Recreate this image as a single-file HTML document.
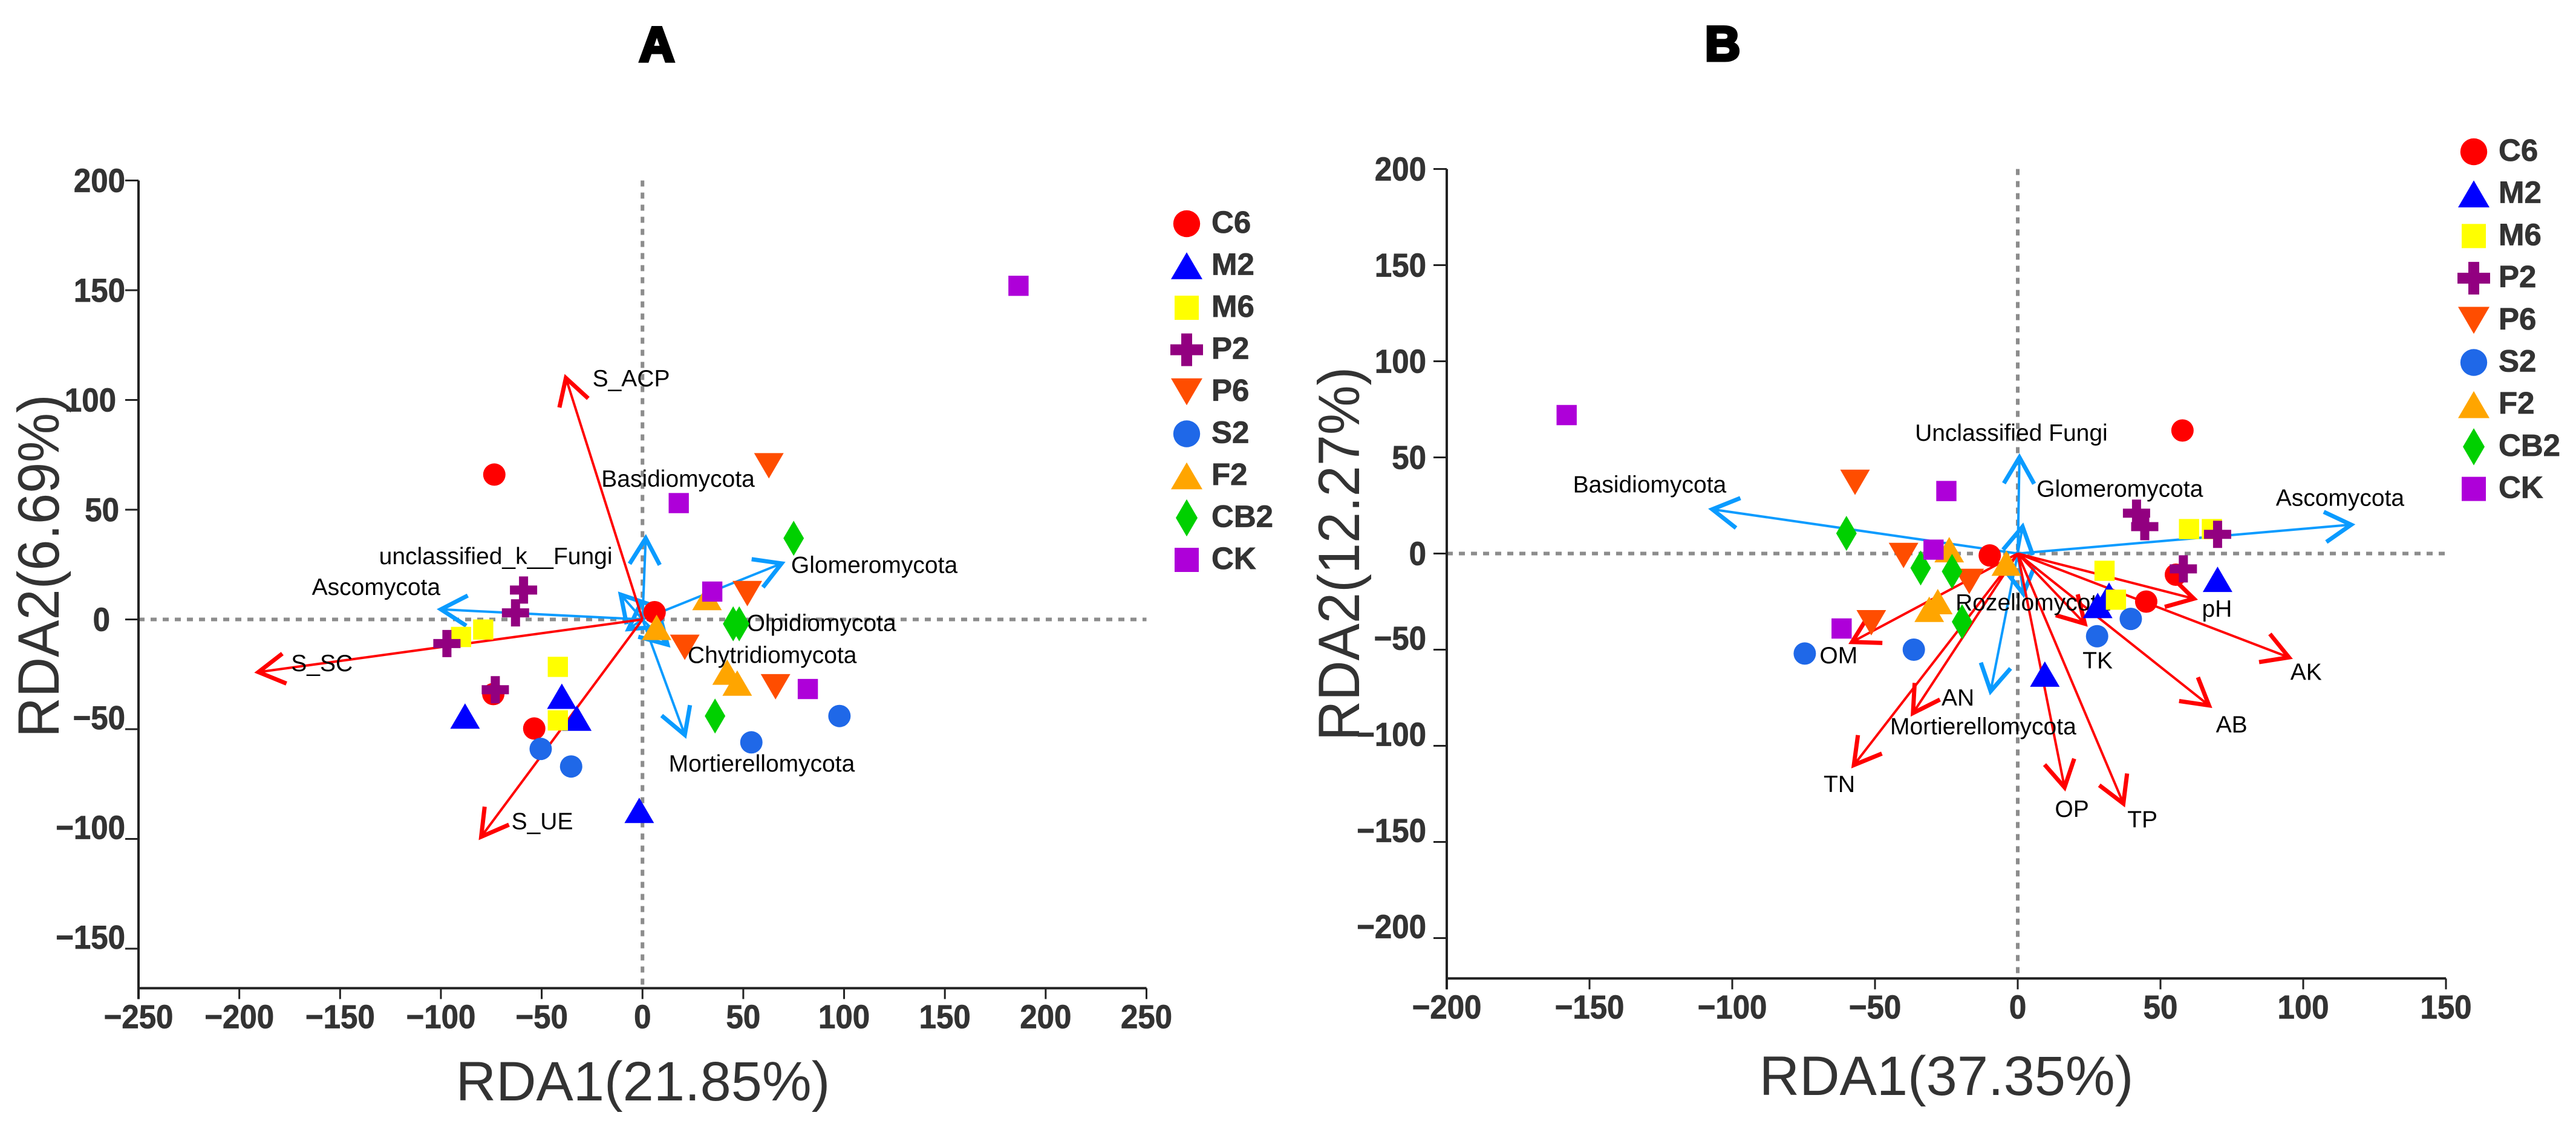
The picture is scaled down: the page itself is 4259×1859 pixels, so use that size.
<!DOCTYPE html>
<html lang="en">
<head>
<meta charset="utf-8">
<title>RDA biplots A and B</title>
<style>
html,body{margin:0;padding:0;background:#fff;}
svg{display:block;font-family:"Liberation Sans",Arial,sans-serif;}
.tick{font-weight:bold;font-size:51px;fill:#333;stroke:#333;stroke-width:0.8px;}
.axis-title{font-size:92px;fill:#333;}
.arrow-label{font-size:39px;fill:#000;}
.legend-label{font-weight:bold;font-size:51px;fill:#333;stroke:#333;stroke-width:0.8px;}
.panel-letter{font-weight:bold;font-size:81px;fill:#000;stroke:#000;stroke-width:5px;text-anchor:middle;}
</style>
</head>
<body>
<svg id="chart" xmlns="http://www.w3.org/2000/svg" width="4259" height="1859" viewBox="0 0 4259 1859">
  <rect x="0" y="0" width="4259" height="1859" fill="#fff"/>
  <text class="panel-letter" x="1086" y="101">A</text>
  <text class="panel-letter" x="2848" y="100">B</text>
  <text class="axis-title" x="1063" y="1820" text-anchor="middle">RDA1(21.85%)</text>
  <text class="axis-title" transform="translate(97,936) rotate(-90) scale(1,1.05)" text-anchor="middle">RDA2(6.69%)</text>
  <text class="axis-title" x="3218" y="1811" text-anchor="middle">RDA1(37.35%)</text>
  <text class="axis-title" transform="translate(2247,916) rotate(-90) scale(1,1.05)" text-anchor="middle">RDA2(12.27%)</text>
  <g id="panel-a"></g>
  <g id="panel-b"></g>
</svg>
<script>
// ---------- shared categories ----------
const groupNames = ["C6","M2","M6","P2","P6","S2","F2","CB2","CK"];

// ---------- panel A values (RDA1, RDA2) ----------
const aXTicks = [-250,-200,-150,-100,-50,0,50,100,150,200,250];
const aYTicks = [200,150,100,50,0,-50,-100,-150];
const aC6x = [6,-73.5,-74,-53.7];
const aC6y = [3.3,66,-34,-49.7];
const aM2x = [-88,-40,-32.6,-1.6];
const aM2y = [-44,-35,-45,-87];
const aM6x = [-90,-79,-42,-42];
const aM6y = [-8,-4.6,-21.6,-46];
const aP2x = [-59,-63,-97,-73];
const aP2y = [13.4,3,-11,-32];
const aP6x = [62.7,52,21,66];
const aP6y = [70,11.8,-12.7,-30.7];
const aS2x = [-50.5,-35.4,54,97.7];
const aS2y = [-59,-67,-56,-44];
const aF2x = [32,7,42,47];
const aF2y = [10,-3.6,-24,-29];
const aCB2x = [75,45,48,36];
const aCB2y = [37,-2,-2,-44];
const aCKx = [186.5,18,34.6,82];
const aCKy = [152,53,12.7,-31.7];
const aRedTipX = [-38,-190.5,-80];
const aRedTipY = [110,-24,-99];
const aBlueTipX = [1.6,-100,-10.8,69,21,-7,12.4];
const aBlueTipY = [37,4.6,11.3,25.5,-52.6,-4.4,-11.5];
const aLabels = ["S_ACP","Basidiomycota","unclassified_k__Fungi","Ascomycota","Glomeromycota","Olpidiomycota","Chytridiomycota","S_SC","Mortierellomycota","S_UE"];
const aLabelX = [-24.8,-20.4,-130.7,-164,73.7,51.7,22.4,-174.3,13,-65];
const aLabelY = [109.8,64,28.8,14.7,24.8,-1.6,-16.3,-20,-65.7,-92];

// ---------- panel B values (RDA1, RDA2) ----------
const bXTicks = [-200,-150,-100,-50,0,50,100,150];
const bYTicks = [200,150,100,50,0,-50,-100,-150,-200];
const bC6x = [-9.8,57.7,55.4,45];
const bC6y = [-1,64,-11,-25];
const bM2x = [70,32,28,9.5];
const bM2y = [-13.4,-21.6,-27,-62.7];
const bM6x = [60,68,30.4,34.4];
const bM6y = [12.7,12.7,-9,-24];
const bP2x = [41.6,44.5,70,58];
const bP2y = [21,14,10,-8];
const bP6x = [-57,-40,-17,-51.3];
const bP6y = [37,-1,-14.5,-36];
const bS2x = [-74.6,-36.4,27.8,39.6];
const bS2y = [-52,-50,-43,-34];
const bF2x = [-24,-4,-28,-31];
const bF2y = [2,-5,-25,-29];
const bCB2x = [-60,-34,-23,-19.5];
const bCB2y = [10.5,-7.5,-9.3,-35.5];
const bCKx = [-158,-25,-29.5,-61.7];
const bCKy = [72,32.5,2,-39];
const bRedTipX = [95,67,61.7,23.5,16.4,37,-57.4,-36.7,-58];
const bRedTipY = [-54,-79,-23.5,-36.5,-121.6,-130,-110,-83,-46];
const bBlueTipX = [116.8,-107,0.6,1.7,-9.5,2];
const bBlueTipY = [15,23,50,14,-71.6,-21];
const bLabels = ["Unclassified Fungi","Glomeromycota","Basidiomycota","Ascomycota","Rozellomycota","pH","OM","TK","AK","AN","AB","Mortierellomycota","TN","OP","TP"];
const bLabelX = [-36,6.6,-155.8,90.4,-21.8,64.5,-69.4,22.7,95.5,-26.7,69.4,-44.7,-68,13,38.4];
const bLabelY = [62.7,33.6,35.8,29,-25.4,-28.7,-53,-55.6,-61.6,-75,-89,-90,-120,-132.8,-138.4];

// ---------- drawing ----------
const NS = "http://www.w3.org/2000/svg";
const RED = "#ff0000", BLUE = "#0a9bff";
const fills = {C6:"#ff0000",M2:"#0000ff",M6:"#ffff00",P2:"#920080",P6:"#ff4d00",S2:"#1f68e8",F2:"#ffa500",CB2:"#00d000",CK:"#ae00d9"};
const shapes = {C6:"circle",M2:"up",M6:"square",P2:"cross",P6:"down",S2:"circle",F2:"up",CB2:"diamond",CK:"square"};

function make(tag, parent, attrs, text) {
  const el = document.createElementNS(NS, tag);
  for (const k in attrs) el.setAttribute(k, attrs[k]);
  if (text !== undefined) el.textContent = text;
  parent.appendChild(el);
  return el;
}

function markerPath(shape, cx, cy, k) {
  const p = pts => "M" + pts.map(q => (cx + q[0]*k).toFixed(1) + " " + (cy + q[1]*k).toFixed(1)).join("L") + "Z";
  if (shape === "up") return p([[0,-21],[24.5,21],[-24.5,21]]);
  if (shape === "down") return p([[0,21],[24.5,-21],[-24.5,-21]]);
  if (shape === "square") return p([[-16.7,-16.7],[16.7,-16.7],[16.7,16.7],[-16.7,16.7]]);
  if (shape === "diamond") return p([[0,-29],[17,0],[0,29],[-17,0]]);
  if (shape === "cross") return p([[-7.5,-22.5],[7.5,-22.5],[7.5,-7.5],[22.5,-7.5],[22.5,7.5],[7.5,7.5],[7.5,22.5],[-7.5,22.5],[-7.5,7.5],[-22.5,7.5],[-22.5,-7.5],[-7.5,-7.5]]);
  const r = 18.5*k;
  return "M" + (cx-r) + " " + cy + "a" + r + " " + r + " 0 1 0 " + (2*r) + " 0a" + r + " " + r + " 0 1 0 " + (-2*r) + " 0Z";
}

function drawAxes(g, P) {
  const dash = "10 10";
  const hz = make("line", g, {x1:P.x(P.xMin),x2:P.x(P.xMax),y1:P.y(0),y2:P.y(0),stroke:"#8c8c8c","stroke-width":6,"stroke-dasharray":dash});
  
  
  const vt = make("line", g, {x1:P.x(0),x2:P.x(0),y1:P.y(P.yMax),y2:P.y(P.yMin),stroke:"#8c8c8c","stroke-width":6,"stroke-dasharray":dash});
  
  
  const ya = make("line", g, {x1:P.x(P.xMin),x2:P.x(P.xMin),y1:P.y(P.yMax),y2:P.y(P.yMin)+18,stroke:"#222","stroke-width":4});
  
  
  const xa = make("line", g, {x1:P.x(P.xMin),x2:P.x(P.xMax),y1:P.y(P.yMin),y2:P.y(P.yMin),stroke:"#222","stroke-width":4});
  
  
  P.xTicks.forEach(v => {
    const t = make("line", g, {x1:P.x(v),x2:P.x(v),y1:P.y(P.yMin),y2:P.y(P.yMin)+18,stroke:"#222","stroke-width":3});
    
    
    const l = make("text", g, {class:"tick","text-anchor":"middle",transform:"translate(" + P.x(v) + "," + (P.y(P.yMin)+66) + ") scale(1,1.08)"}, String(v).replace("-","\u2212"));
    
    
  });
  P.yTicks.forEach(v => {
    const yy = P.y(v);
    const t = make("line", g, {x1:P.x(P.xMin)-22,x2:P.x(P.xMin),y1:yy,y2:yy,stroke:"#222","stroke-width":3});
    
    
    const base = v < 0 ? yy : yy + 19;
    const right = P.x(P.xMin) - P.tickGap - (P.tickShift[v] || 0);
    const l = make("text", g, {class:"tick","text-anchor":"end",transform:"translate(" + right + "," + base + ") scale(1,1.08)"}, String(v).replace("-","\u2212"));
    
    
  });
}

function drawArrow(g, P, tx, ty, color, name) {
  const x0 = P.x(0), y0 = P.y(0), x1 = P.x(tx), y1 = P.y(ty);
  const ang = Math.atan2(y1 - y0, x1 - x0);
  const L = 50, half = Math.PI/6;
  const wing = s => (x1 - L*Math.cos(ang + s*half)).toFixed(1) + " " + (y1 - L*Math.sin(ang + s*half)).toFixed(1);
  const arrow = make("g", g, {fill:"none",stroke:color,"stroke-linecap":"butt"});
  
  
  make("line", arrow, {x1:x0,y1:y0,x2:x1,y2:y1,"stroke-width":4});
  make("path", arrow, {d:"M" + wing(1) + "L" + x1.toFixed(1) + " " + y1.toFixed(1) + "L" + wing(-1),"stroke-width":7,"stroke-linejoin":"miter"});
}

function drawPanel(g, P) {
  drawAxes(g, P);
  P.blueX.forEach((v, i) => drawArrow(g, P, v, P.blueY[i], BLUE, "species-arrow"));
  P.redX.forEach((v, i) => drawArrow(g, P, v, P.redY[i], RED, "factor-arrow"));
  P.labels.forEach((txt, i) => {
    const t = make("text", g, {class:"arrow-label",x:P.x(P.labelX[i]),y:P.y(P.labelY[i])+13}, txt);
    
    
  });
  groupNames.forEach((name, gi) => {
    const xs = P.seriesX[gi], ys = P.seriesY[gi];
    xs.forEach((v, i) => {
      const m = make("path", g, {d:markerPath(shapes[name], P.x(v), P.y(ys[i]), 1),fill:fills[name]});
      
      
    });
    const ly = P.legendY + gi*P.legendStep;
    const isBig = ["circle","square","cross"].indexOf(shapes[name]) >= 0;
    const lm = make("path", g, {d:markerPath(shapes[name], P.legendX, ly, isBig ? 1.2 : 1.06),fill:fills[name]});
    
    
    const lt = make("text", g, {class:"legend-label",x:P.legendX+41,y:ly+15}, name);
    
    
  });
}

drawPanel(document.getElementById("panel-a"), {
  x: v => 229 + (v + 250) * 3.333,
  y: v => 1024.5 - v * 3.63,
  xMin:-250, xMax:250, yMin:-168, yMax:200, tickGap:22,
  tickShift:{100:15, 50:10, 0:25},
  xTicks:aXTicks, yTicks:aYTicks,
  seriesX:[aC6x,aM2x,aM6x,aP2x,aP6x,aS2x,aF2x,aCB2x,aCKx],
  seriesY:[aC6y,aM2y,aM6y,aP2y,aP6y,aS2y,aF2y,aCB2y,aCKy],
  redX:aRedTipX, redY:aRedTipY, blueX:aBlueTipX, blueY:aBlueTipY,
  labels:aLabels, labelX:aLabelX, labelY:aLabelY,
  legendX:1962, legendY:370, legendStep:69.5
});
drawPanel(document.getElementById("panel-b"), {
  x: v => 2392 + (v + 200) * 4.72,
  y: v => 915.5 - v * 3.18,
  xMin:-200, xMax:150, yMin:-221, yMax:200, tickGap:34,
  tickShift:{},
  xTicks:bXTicks, yTicks:bYTicks,
  seriesX:[bC6x,bM2x,bM6x,bP2x,bP6x,bS2x,bF2x,bCB2x,bCKx],
  seriesY:[bC6y,bM2y,bM6y,bP2y,bP6y,bS2y,bF2y,bCB2y,bCKy],
  redX:bRedTipX, redY:bRedTipY, blueX:bBlueTipX, blueY:bBlueTipY,
  labels:bLabels, labelX:bLabelX, labelY:bLabelY,
  legendX:4090, legendY:251, legendStep:69.7
});
</script>
</body>
</html>
